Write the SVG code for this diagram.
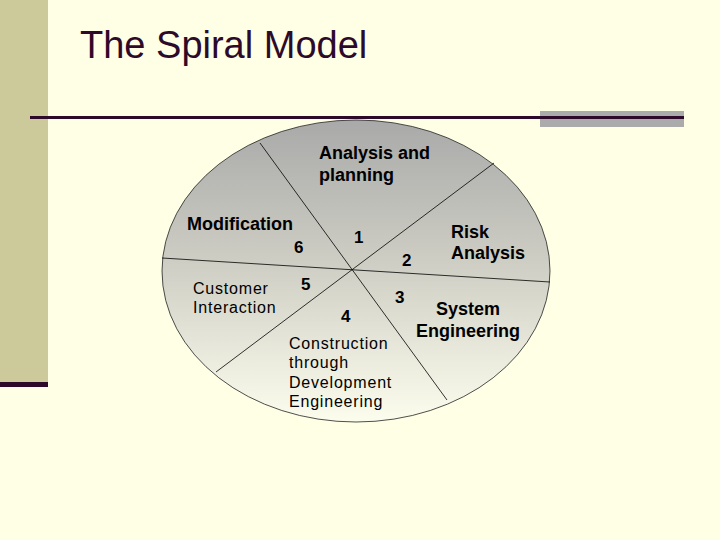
<svg xmlns="http://www.w3.org/2000/svg" width="720" height="540" viewBox="0 0 720 540">
  <defs>
    <linearGradient id="fillGrad" x1="0" y1="0" x2="0" y2="1">
      <stop offset="0" stop-color="#A9A9A9"/>
      <stop offset="0.5" stop-color="#D0D0C6"/>
      <stop offset="1" stop-color="#FDFDEE"/>
    </linearGradient>
    <style>
      .bold { font-family: "Liberation Sans", Arial, sans-serif; font-weight: bold; font-size: 18px; fill: #000; }
      .num { font-family: "Liberation Sans", Arial, sans-serif; font-weight: bold; font-size: 17px; fill: #000; }
      .reg { font-family: "Liberation Sans", Arial, sans-serif; font-size: 16px; letter-spacing: 0.8px; fill: #000; }
      .div { stroke: #000; stroke-width: 0.8; fill: none; }
    </style>
  </defs>
  <rect x="0" y="0" width="720" height="540" fill="#FFFFE5"/>
  <rect x="0" y="0" width="48" height="382" fill="#CCC99A"/>
  <rect x="0" y="382" width="48" height="5" fill="#2E0A2A"/>
  <text x="80" y="58" font-family="Liberation Sans, Arial, sans-serif" font-size="38" fill="#2E0A2A">The Spiral Model</text>
  <rect x="540" y="111" width="144" height="16" fill="#ABABAB"/>
  <rect x="30" y="116" width="654" height="3" fill="#2E0A2A"/>

  <g id="ellipse">
    <ellipse cx="356" cy="271" rx="194" ry="151" fill="url(#fillGrad)" stroke="#222" stroke-width="0.8"/>
  </g>
  <g id="connectors">
    <line class="div" x1="260" y1="143" x2="447" y2="400"/>
    <line class="div" x1="494" y1="163" x2="216" y2="372"/>
    <line class="div" x1="162" y1="258" x2="550" y2="282"/>
  </g>
  <g id="analysis">
    <text class="bold" x="319" y="159">Analysis and</text>
    <text class="bold" x="319" y="181">planning</text>
    <text class="num" x="354" y="243">1</text>
  </g>
  <g id="risk">
    <text class="bold" x="451" y="238">Risk</text>
    <text class="bold" x="451" y="259">Analysis</text>
    <text class="num" x="402" y="266">2</text>
  </g>
  <g id="system">
    <text class="bold" x="468" y="315" text-anchor="middle">System</text>
    <text class="bold" x="468" y="337" text-anchor="middle">Engineering</text>
    <text class="num" x="395" y="303">3</text>
  </g>
  <g id="construction">
    <text class="reg" x="289" y="349">Construction</text>
    <text class="reg" x="289" y="368">through</text>
    <text class="reg" x="289" y="388">Development</text>
    <text class="reg" x="289" y="407">Engineering</text>
    <text class="num" x="341" y="322">4</text>
  </g>
  <g id="customer">
    <text class="reg" x="193" y="294">Customer</text>
    <text class="reg" x="193" y="313">Interaction</text>
    <text class="num" x="301" y="290">5</text>
  </g>
  <g id="modification">
    <text class="bold" x="187" y="230">Modification</text>
    <text class="num" x="294" y="253">6</text>
  </g>
</svg>
